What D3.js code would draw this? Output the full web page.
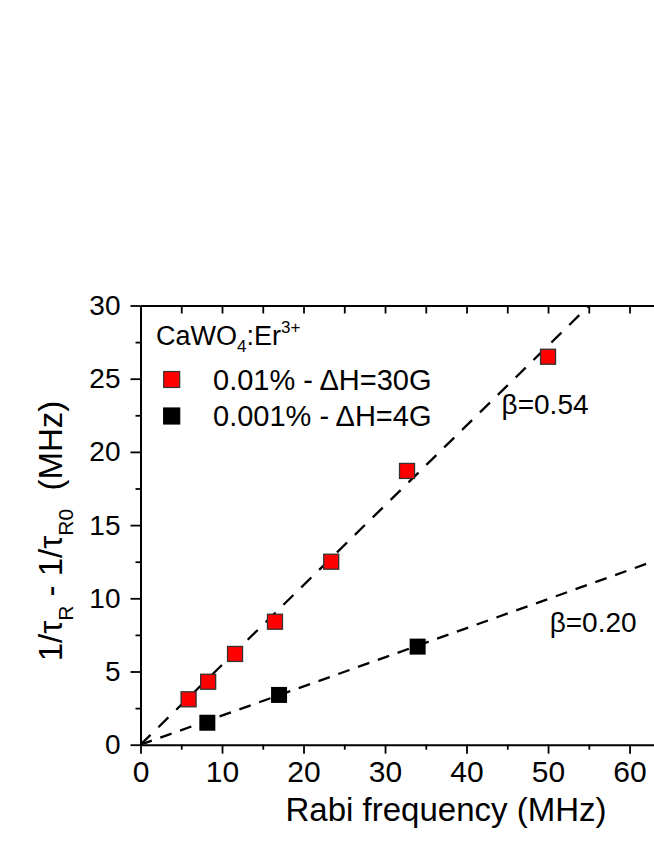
<!DOCTYPE html>
<html><head><meta charset="utf-8">
<script src="https://cdn.jsdelivr.net/npm/d3@7"></script>
<style>
html,body{margin:0;padding:0;background:#fff;}
svg{display:block;font-family:"Liberation Sans",Arial,sans-serif;}
text{white-space:pre;}
</style></head>
<body><svg id="c" width="654" height="846"></svg>
<script>
// ---- data ----
const redX = [5.9, 8.3, 11.6, 16.5, 23.4, 32.7, 50.0];
const redY = [3.1, 4.3, 6.2, 8.4, 12.5, 18.7, 26.5];
const blackX = [8.2, 17.0, 34.0];
const blackY = [1.5, 3.4, 6.7];
const fitSlopes = [0.545, 0.199];   // red fit, black fit
const xMajor = [0, 10, 20, 30, 40, 50, 60];
const xMinor = [5, 15, 25, 35, 45, 55];
const xTop = [0, 5, 10, 15, 20, 25, 30, 35, 40, 45, 50, 55, 60];
const yMajor = [0, 5, 10, 15, 20, 25, 30];
const yMinor = [2.5, 7.5, 12.5, 17.5, 22.5, 27.5];
const betaLabels = ["β=0.54", "β=0.20"];
const legendLabels = ["0.01% - ΔH=30G", "0.001% - ΔH=4G"];

// ---- layout ----
const svg = d3.select("#c");
const L = 140.5, R = 654, T = 305.5, B = 744.7;
const x = d3.scaleLinear().domain([0, 63]).range([L, R]);
const y = d3.scaleLinear().domain([0, 30]).range([B, T]);

svg.append("defs").append("clipPath").attr("id", "clip")
  .append("rect").attr("x", L).attr("y", T).attr("width", R - L).attr("height", B - T);

// fit lines
const fitStyles = [{dash: "14,11"}, {dash: "12,9"}];
fitSlopes.forEach((s, i) => {
  const xe = Math.min(63, 30 / s);
  svg.append("line")
    .attr("clip-path", "url(#clip)")
    .attr("x1", x(0)).attr("y1", y(0))
    .attr("x2", x(xe)).attr("y2", y(s * xe))
    .attr("stroke", "#000").attr("stroke-width", 2.3)
    .attr("stroke-dasharray", fitStyles[i].dash);
});

// axes
function styleAxis(g) {
  g.selectAll("path.domain").attr("stroke", "#000").attr("stroke-width", 2);
  g.selectAll(".tick line").attr("stroke", "#000").attr("stroke-width", 1.8);
  g.selectAll(".tick text").attr("fill", "#000");
}
// bottom
const gb = svg.append("g").attr("transform", `translate(0,${B})`)
  .call(d3.axisBottom(x).tickValues(xMajor).tickSize(9).tickSizeOuter(0).tickPadding(7).tickFormat(d3.format("d")));
gb.attr("font-size", 30).attr("font-family", "Liberation Sans, Arial, sans-serif");
styleAxis(gb);
const gbm = svg.append("g").attr("transform", `translate(0,${B})`)
  .call(d3.axisBottom(x).tickValues(xMinor).tickSize(5).tickFormat(""));
gbm.select("path.domain").remove();
styleAxis(gbm);
// top
const gt = svg.append("g").attr("transform", `translate(0,${T})`)
  .call(d3.axisBottom(x).tickValues(xTop).tickSize(8).tickSizeOuter(0).tickFormat(""));
styleAxis(gt);
// left
const gl = svg.append("g").attr("transform", `translate(${L},0)`)
  .call(d3.axisLeft(y).tickValues(yMajor).tickSize(10).tickSizeOuter(0).tickPadding(10).tickFormat(d3.format("d")));
gl.attr("font-size", 28).attr("font-family", "Liberation Sans, Arial, sans-serif");
styleAxis(gl);
const glm = svg.append("g").attr("transform", `translate(${L},0)`)
  .call(d3.axisLeft(y).tickValues(yMinor).tickSize(5).tickFormat(""));
glm.select("path.domain").remove();
styleAxis(glm);

// points
const red = redX.map((v, i) => ({x: v, y: redY[i]}));
const blk = blackX.map((v, i) => ({x: v, y: blackY[i]}));
const rs = 15, bs = 16;
svg.append("g").selectAll("rect").data(red).join("rect")
  .attr("x", d => x(d.x) - rs / 2).attr("y", d => y(d.y) - rs / 2)
  .attr("width", rs).attr("height", rs)
  .attr("fill", "#ff0000").attr("stroke", "#333").attr("stroke-width", 1.3);
svg.append("g").selectAll("rect").data(blk).join("rect")
  .attr("x", d => x(d.x) - bs / 2).attr("y", d => y(d.y) - bs / 2)
  .attr("width", bs).attr("height", bs)
  .attr("fill", "#000");

// beta labels
svg.append("text").attr("x", x(44.3)).attr("y", y(22.6)).attr("font-size", 28).text(betaLabels[0]);
svg.append("text").attr("x", x(50.2)).attr("y", y(7.7)).attr("font-size", 28).text(betaLabels[1]);

// legend
const lt = svg.append("text").attr("x", 156).attr("y", 345).attr("font-size", 27);
lt.append("tspan").text("CaWO");
lt.append("tspan").attr("font-size", 17).attr("dy", 7).text("4");
lt.append("tspan").attr("dy", -7).text(":Er");
lt.append("tspan").attr("font-size", 17).attr("dy", -12).text("3+");
const legColors = [{f: "#ff0000", s: "#333"}, {f: "#000", s: "#000"}];
const legRows = [379.5, 416];
legendLabels.forEach((lab, i) => {
  svg.append("rect").attr("x", 171.7 - 8).attr("y", legRows[i] - 8).attr("width", 16).attr("height", 16)
    .attr("fill", legColors[i].f).attr("stroke", legColors[i].s).attr("stroke-width", 1.2);
  svg.append("text").attr("x", 213).attr("y", legRows[i] + 10).attr("font-size", 29).text(lab);
});

// axis titles
svg.append("text").attr("x", 446).attr("y", 821).attr("text-anchor", "middle").attr("font-size", 33)
  .text("Rabi frequency (MHz)");
const yt = svg.append("text").attr("transform", "translate(62,531) rotate(-90)")
  .attr("text-anchor", "middle").attr("font-size", 33);
yt.append("tspan").text("1/τ");
yt.append("tspan").attr("font-size", 21).attr("dy", 11).text("R");
yt.append("tspan").attr("dy", -11).text(" - 1/τ");
yt.append("tspan").attr("font-size", 21).attr("dy", 11).text("R0");
yt.append("tspan").attr("dy", -11).text("  (MHz)");
</script></body></html>
